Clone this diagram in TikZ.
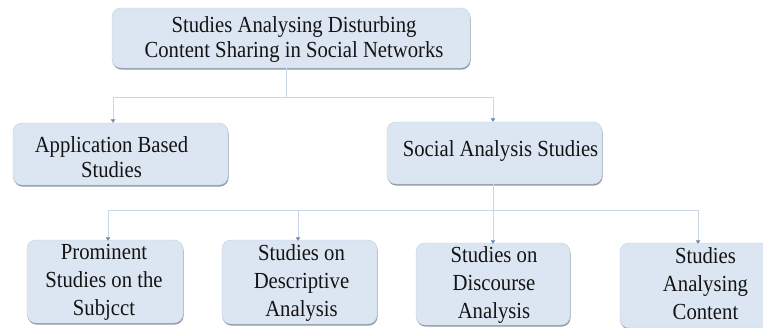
\documentclass[tikz,border=0pt]{standalone}
\usepackage{fontspec}
\setmainfont{Liberation Serif}
\newfontfamily\boxface{Liberation Serif}[FakeStretch=0.9]
\usetikzlibrary{arrows.meta,shadows}

\definecolor{boxfill}{HTML}{DCE6F2}
\definecolor{boxedge}{HTML}{C3CFDC}
\definecolor{boxshade}{HTML}{8E99A5}
\definecolor{linkc}{HTML}{C9D8E8}
\definecolor{tipc}{HTML}{6F8DAC}
\definecolor{inkc}{HTML}{141414}

\tikzset{
  studybox/.style={rounded corners=9pt, fill=boxfill, draw=boxedge, line width=0.4pt,
    drop shadow={shadow xshift=0.6pt, shadow yshift=-1.6pt, fill=boxshade, opacity=1},
    inner sep=0pt},
  boxtext/.style={align=center, text=inkc, inner sep=0pt,
    font=\boxface\fontsize{23}{25}\selectfont},
  lowtext/.style={boxtext, font=\boxface\fontsize{23}{28}\selectfont},
  link/.style={draw=linkc, line width=0.9pt},
  arrowlink/.style={link, -{Triangle[width=4.5pt,length=3.5pt,color=tipc]}},
}

\begin{document}
\begin{tikzpicture}[x=1pt,y=-1pt]
  \clip (0,0) rectangle (763,327);
  \fill[white] (0,0) rectangle (763,327);

  % root
  \node[studybox, minimum width=358pt, minimum height=60pt] (root) at (291,38) {};
  \node[boxtext] (rootlbl) at ([xshift=3pt,yshift=-2pt]root.center)
    {Studies Analysing Disturbing\\Content Sharing in Social Networks};

  % second level
  \node[studybox, minimum width=215pt, minimum height=62pt] (app) at (120.5,154) {};
  \node[boxtext] (applbl) at ([xshift=-9pt,yshift=-3pt]app.center)
    {Application Based\\Studies};

  \node[studybox, minimum width=215pt, minimum height=62pt] (soc) at (494.5,153) {};
  \node[boxtext] (soclbl) at ([xshift=6pt,yshift=2pt]soc.center)
    {Social Analysis Studies};

  % third level
  \node[studybox, minimum width=156pt, minimum height=83pt] (prom) at (105,281.5) {};
  \node[lowtext] (promlbl) at ([xshift=-1pt,yshift=-1pt]prom.center)
    {Prominent\\Studies on the\\Subjcct};

  \node[studybox, minimum width=155pt, minimum height=84pt] (desc) at (299.5,282) {};
  \node[lowtext] (desclbl) at ([xshift=2pt,yshift=-1pt]desc.center)
    {Studies on\\Descriptive\\Analysis};

  \node[studybox, minimum width=154pt, minimum height=82pt] (disc) at (493,284) {};
  \node[lowtext] (disclbl) at ([xshift=1pt,yshift=-1pt]disc.center)
    {Studies on\\Discourse\\Analysis};

  \node[studybox, minimum width=155pt, minimum height=85pt] (cont) at (697.5,285.5) {};
  \node[lowtext] (contlbl) at ([xshift=8pt,yshift=2pt]cont.center)
    {Studies\\Analysing\\Content};

  % connectors, root to second level
  \coordinate (rj) at (286,97);
  \coordinate (lj) at (113,97);
  \coordinate (sj) at (493,97);
  \draw[link] (root.south -| rj) -- (rj);
  \draw[link] (lj) -- (sj);
  \draw[arrowlink] (lj) -- (app.north -| lj);
  \draw[arrowlink] (sj) -- (soc.north -| sj);

  % connectors, second level to third level
  \coordinate (bj) at (493,210);
  \coordinate (b1) at (108,210);
  \coordinate (b2) at (298,210);
  \coordinate (b4) at (698,210);
  \draw[link] (soc.south -| bj) -- (bj);
  \draw[link] (b1) -- (b4);
  \draw[arrowlink] (b1) -- ([yshift=-1pt]prom.north -| b1);
  \draw[arrowlink] (b2) -- ([yshift=-1pt]desc.north -| b2);
  \draw[arrowlink] (bj) -- ([yshift=-1pt]disc.north -| bj);
  \draw[arrowlink] (b4) -- ([yshift=-1pt]cont.north -| b4);
\end{tikzpicture}
\end{document}
